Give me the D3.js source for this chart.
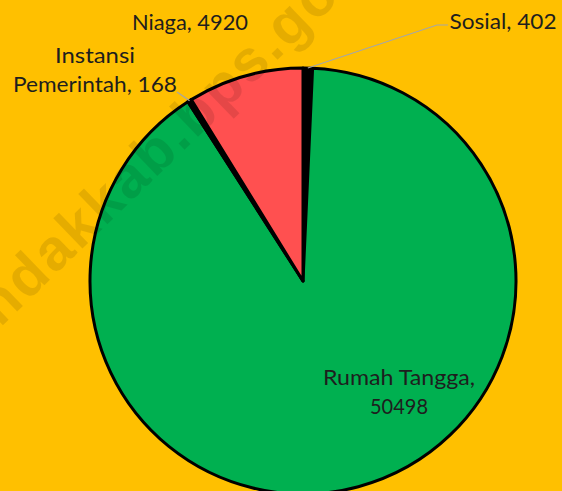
<!DOCTYPE html>
<html>
<head>
<meta charset="utf-8">
<script src="https://cdn.jsdelivr.net/npm/d3@7"></script>
<style>
  html, body { margin: 0; padding: 0; background: #FFC000; }
  svg { display: block; }
  .lbl { font-family: Lato, "Open Sans", sans-serif; font-size: 21px; fill: #1e1e1e; }
</style>
</head>
<body>
<div id="chart"></div>
<script>
var width = 562, height = 491;

// data, in drawing order from 12 o'clock clockwise
var categories = ["Sosial", "Rumah Tangga", "Instansi Pemerintah", "Niaga"];
var values = [402, 50498, 168, 4920];
var colors = ["#000000", "#00B050", "#000000", "#FF5050"];

// label layout: text lines, anchor x, first baseline, widths
var labelLines = [
	["Sosial, 402"],
	["Rumah Tangga,", "50498"],
	["Instansi", "Pemerintah, 168"],
	["Niaga, 4920"]
];
var labelPos = [[503, 29], [399, 385], [95, 63], [190, 30]];
var labelWidths = [[107], [152, 58], [80, 164], [116]];

var cx = 303, cy = 281, r = 213;

var svg = d3.select("#chart").append("svg")
	.attr("width", width).attr("height", height);

svg.append("rect").attr("width", width).attr("height", height).attr("fill", "#FFC000");

var pie = d3.pie().sort(null).value(function(d) { return d; });
var arc = d3.arc().innerRadius(0).outerRadius(r);
var arcs = pie(values);

var g = svg.append("g").attr("transform", "translate(" + cx + "," + cy + ")");

g.selectAll("path").data(arcs).enter().append("path")
	.attr("d", arc)
	.attr("fill", function(d, i) { return colors[i]; })
	.attr("stroke", "#000")
	.attr("stroke-width", 3)
	.attr("stroke-linejoin", "round");

// leader lines (Sosial, Instansi)
var outer = d3.arc().innerRadius(r).outerRadius(r);
function edge(i) { return outer.centroid(arcs[i]); }

var s = edge(0);
svg.append("polyline")
	.attr("points", [[cx + s[0], cy + s[1]], [437, 25], [448, 25]].join(" "))
	.attr("fill", "none").attr("stroke", "#A6A6A6").attr("stroke-width", 1.2);

var ins = edge(2);
svg.append("line")
	.attr("x1", 177).attr("y1", 92)
	.attr("x2", cx + ins[0]).attr("y2", cy + ins[1])
	.attr("stroke", "#A6A6A6").attr("stroke-width", 1.2);

// labels
labelLines.forEach(function(lines, i) {
	var t = svg.append("text").attr("class", "lbl").attr("text-anchor", "middle");
	lines.forEach(function(line, j) {
		t.append("tspan")
			.attr("x", labelPos[i][0])
			.attr("y", labelPos[i][1] + j * 29)
			.attr("textLength", labelWidths[i][j])
			.attr("lengthAdjust", "spacingAndGlyphs")
			.text(line);
	});
});

// watermark
svg.append("text")
	.attr("transform", "translate(0,328) rotate(-44)")
	.attr("font-family", "Liberation Sans, Arial, sans-serif")
	.attr("font-weight", "bold")
	.attr("font-size", 58)
	.attr("letter-spacing", 2.5)
	.attr("fill", "#000")
	.attr("fill-opacity", 0.1)
	.text("ndakkab.bps.go.id");
</script>
</body>
</html>
